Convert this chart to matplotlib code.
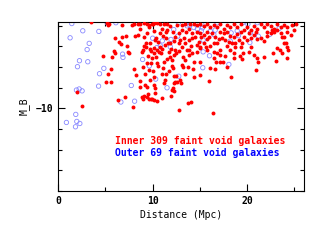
import numpy as np
import matplotlib
matplotlib.use('Agg')
import matplotlib.pyplot as plt
from matplotlib.ticker import MultipleLocator

# Galaxies internes (points rouges) : distance (Mpc), M_B
inner_d = [2.05, 2.58, 4.77, 5.05, 5.62, 5.27, 5.55, 5.87, 6.04, 6.47, 6.29, 6.71, 6.68, 7.17, 7.39, 7.49,
           7.10, 7.28, 7.92, 7.99, 8.23, 8.16, 6.75, 5.41, 5.12, 5.27, 6.04, 5.72, 3.53, 7.77, 7.99, 8.41,
           8.69, 8.69, 8.62, 8.83, 8.94, 9.08, 9.40, 9.65, 9.82, 9.40, 8.83, 9.01, 9.08, 9.29, 9.29, 9.05,
           9.43, 9.61, 10.04, 10.11, 10.25, 10.35, 10.53, 10.74, 10.81, 11.02, 11.13, 11.38, 11.45, 11.59,
           11.87, 12.23, 12.40, 9.22, 9.61, 9.86, 10.04, 10.11, 10.18, 10.21, 10.21, 10.49, 10.95, 11.17,
           11.31, 11.91, 12.19, 12.26, 12.37, 12.58, 12.93, 13.00, 12.23, 12.51, 12.16, 12.01, 11.10, 10.99,
           10.60, 10.35, 10.11, 9.93, 9.79, 9.54, 9.68, 9.75, 10.11, 10.46, 10.88, 11.17, 11.52, 11.80,
           12.05, 12.23, 12.47, 12.83, 13.22, 13.46, 13.64, 14.06, 14.17, 14.35, 14.70, 14.98, 15.05, 14.42,
           14.28, 13.71, 14.10, 12.76, 16.33, 15.97, 16.11, 16.64, 16.75, 17.07, 17.39, 17.88, 18.27, 17.60,
           17.17, 16.82, 16.47, 16.11, 15.62, 15.41, 15.05, 14.88, 14.52, 14.17, 13.82, 13.57, 13.29, 12.93,
           12.83, 13.11, 12.58, 12.16, 11.87, 11.52, 11.17, 10.81, 10.46, 10.18, 9.89, 9.61, 9.40, 9.05,
           8.69, 8.41, 11.52, 12.40, 12.76, 13.11, 13.46, 13.82, 14.17, 14.70, 15.05, 15.41, 15.76, 15.94,
           16.29, 16.64, 17.00, 17.35, 17.70, 18.06, 18.41, 18.76, 18.59, 19.12, 19.47, 19.65, 20.00, 20.42,
           20.71, 21.06, 21.41, 21.77, 22.12, 22.47, 22.83, 23.18, 23.53, 23.89, 24.24, 24.59, 24.95, 25.12,
           24.77, 24.24, 23.89, 23.53, 23.18, 22.83, 22.47, 22.12, 21.77, 21.41, 21.06, 20.71, 20.35, 20.00,
           19.65, 19.29, 18.94, 18.59, 18.23, 17.88, 17.53, 17.17, 16.82, 16.47, 16.11, 15.76, 15.41, 15.05,
           14.70, 14.35, 13.99, 13.46, 13.11, 17.17, 17.53, 17.88, 18.23, 18.94, 19.29, 20.18, 20.88, 22.12,
           22.65, 23.71, 24.06, 24.24, 23.89, 23.18, 23.46, 23.71, 24.24, 24.35, 21.77, 21.06, 21.17, 20.71,
           20.18, 19.47, 19.19, 18.59, 18.23, 17.88, 17.17, 16.47, 15.76, 18.76, 19.29, 20.88, 23.07, 22.76,
           14.98, 15.12, 16.47, 16.82, 18.59, 19.58, 20.35, 15.76, 14.70, 13.89, 13.82, 13.11, 13.22, 11.70,
           11.94, 11.34, 10.99, 10.64, 9.40, 8.98, 9.19, 9.75, 11.45, 11.70, 12.23, 12.08, 9.51, 9.96,
           10.18, 10.46, 13.46, 13.78]
inner_m = [-10.81, -10.10, -12.55, -11.29, -11.29, -11.65, -11.90, -12.77, -13.39, -13.24, -10.40, -13.47,
           -13.13, -13.52, -12.71, -12.69, -10.55, -13.00, -10.08, -11.89, -11.63, -13.53, -14.03, -14.11,
           -14.15, -14.06, -12.66, -12.50, -14.17, -14.02, -14.08, -13.55, -13.87, -11.05, -11.31, -10.56,
           -10.47, -10.61, -10.56, -10.44, -10.44, -11.02, -12.71, -12.82, -13.00, -12.98, -13.18, -13.47,
           -13.66, -13.92, -14.08, -13.76, -13.31, -13.39, -13.23, -12.98, -13.63, -13.87, -13.50, -13.39,
           -13.71, -13.15, -13.18, -13.27, -13.47, -11.69, -11.85, -12.18, -11.81, -11.50, -11.11, -10.97,
           -10.77, -10.37, -10.52, -11.21, -11.37, -10.58, -10.98, -11.21, -11.27, -11.29, -11.37, -11.24,
           -11.56, -11.56, -11.94, -12.06, -11.95, -11.69, -12.06, -12.50, -12.66, -12.45, -12.79, -12.53,
           -12.90, -13.15, -12.95, -12.82, -12.66, -12.26, -12.37, -12.47, -12.34, -12.58, -12.66, -12.79,
           -12.47, -12.34, -12.85, -13.02, -12.66, -12.26, -12.74, -12.24, -11.61, -11.50, -11.92, -10.27,
           -10.32, -9.90, -9.76, -11.32, -11.94, -11.89, -12.26, -12.26, -12.23, -12.02, -11.53, -12.53,
           -12.85, -13.15, -13.18, -13.02, -12.98, -13.15, -12.98, -13.23, -13.47, -13.63, -13.87, -13.71,
           -13.39, -13.31, -13.63, -13.79, -14.03, -13.71, -13.98, -14.08, -14.11, -14.11, -14.15, -14.15,
           -14.11, -14.05, -14.08, -14.15, -14.11, -14.11, -13.79, -12.82, -13.15, -12.98, -13.15, -13.31,
           -13.39, -13.71, -13.63, -13.55, -13.71, -13.47, -13.63, -13.47, -13.34, -13.39, -13.31, -13.23,
           -13.18, -13.15, -13.47, -13.31, -13.18, -13.47, -13.31, -13.39, -13.55, -13.34, -13.39, -13.27,
           -13.50, -13.63, -13.71, -13.79, -13.63, -13.47, -13.71, -13.55, -13.79, -14.11, -14.03, -13.95,
           -14.03, -13.92, -14.08, -13.87, -13.98, -14.08, -13.95, -14.08, -13.87, -13.98, -13.82, -13.95,
           -13.79, -14.08, -13.95, -14.11, -13.92, -14.03, -13.87, -14.08, -13.95, -14.03, -13.95, -14.11,
           -13.98, -14.11, -14.03, -14.11, -14.08, -14.08, -14.03, -13.71, -13.63, -13.71, -13.50, -13.60,
           -13.71, -13.63, -13.71, -13.71, -13.82, -13.47, -13.18, -12.98, -13.15, -12.94, -12.82, -12.66,
           -12.42, -12.82, -12.50, -12.42, -12.26, -12.58, -12.74, -12.37, -12.53, -12.42, -12.82, -13.02,
           -12.58, -12.42, -12.82, -12.98, -12.98, -11.85, -12.29, -12.66, -12.95, -13.47, -12.74, -12.66,
           -12.66, -12.66, -12.98, -13.34, -13.07, -12.85, -12.58, -12.10, -12.02, -12.74, -12.90, -13.07,
           -12.90, -12.74, -12.18, -12.02, -11.13, -11.37, -11.69, -11.81, -10.85, -10.89, -10.68, -10.47,
           -10.40, -12.18, -11.69, -12.02]

# Galaxies externes (cercles bleus)
outer_d = [1.45, 1.27, 2.61, 4.31, 3.29, 3.07, 2.26, 3.14, 2.05, 4.38, 4.84, 4.28, 1.94, 2.23, 2.54, 1.87,
           0.88, 1.98, 2.30, 1.84, 6.11, 5.19, 6.82, 6.86, 8.94, 9.65, 7.74, 8.09, 6.64, 11.52, 10.32, 12.76,
           11.87, 11.94, 10.81, 10.46, 10.00, 13.64, 13.92, 14.35, 15.19, 14.73, 15.16, 16.11, 16.61, 16.47,
           18.30, 18.94, 19.08, 19.54, 20.35, 21.17, 22.37, 23.36, 20.28, 18.20, 18.06, 15.30, 15.34, 16.01,
           21.06, 20.07, 16.82, 12.23, 12.72, 11.02, 15.34, 15.27, 12.65]
outer_m = [-14.11, -13.42, -13.76, -13.73, -13.15, -12.85, -12.31, -12.26, -12.02, -11.68, -11.94, -11.08,
           -10.89, -10.94, -10.85, -9.71, -9.32, -9.37, -9.27, -9.11, -14.15, -14.15, -12.63, -12.47, -12.37,
           -12.06, -11.11, -10.35, -10.31, -11.00, -11.42, -11.56, -12.98, -13.34, -13.03, -12.95, -13.40,
           -14.00, -14.03, -13.92, -14.08, -13.85, -13.76, -13.74, -13.79, -13.58, -13.66, -13.76, -13.52,
           -14.15, -13.66, -13.50, -13.58, -13.87, -13.19, -13.26, -12.13, -11.97, -12.74, -12.55, -14.15,
           -14.08, -14.15, -13.82, -14.15, -13.27, -13.31, -13.90, -13.50]

plt.rcParams['font.family'] = 'DejaVu Sans Mono'
plt.rcParams['font.weight'] = 'bold'

fig = plt.figure(figsize=(3.14, 2.43), dpi=100)
ax = fig.add_axes([0.185, 0.214, 0.783, 0.695])

ax.scatter(inner_d, inner_m, s=8, color='red', linewidths=0, zorder=3)
ax.scatter(outer_d, outer_m, s=10, facecolors='none', edgecolors='#8888ff', linewidths=0.6, zorder=2)

ax.set_xlim(0, 26)
ax.set_ylim(-6.0, -14.18)
ax.xaxis.set_major_locator(MultipleLocator(10))
ax.xaxis.set_minor_locator(MultipleLocator(5))
ax.yaxis.set_major_locator(MultipleLocator(5))
ax.yaxis.set_minor_locator(MultipleLocator(1))
ax.set_yticks([-10])
ax.set_yticklabels(['\u221210'])
ax.tick_params(which='both', direction='in', top=True, right=True, labelsize=7, width=0.8)
ax.tick_params(which='major', length=5)
ax.tick_params(which='minor', length=3)
for s in ax.spines.values():
    s.set_linewidth(0.8)

ax.set_xlabel('Distance (Mpc)', fontsize=7, labelpad=3)
ax.set_ylabel('M_B', fontsize=7, labelpad=4)

ax.text(0.233, 0.295, 'Inner 309 faint void galaxies', color='red', fontsize=7,
        transform=ax.transAxes, ha='left', va='center')
ax.text(0.233, 0.225, 'Outer 69 faint void galaxies', color='blue', fontsize=7,
        transform=ax.transAxes, ha='left', va='center')

plt.savefig('out.png', dpi=100)
